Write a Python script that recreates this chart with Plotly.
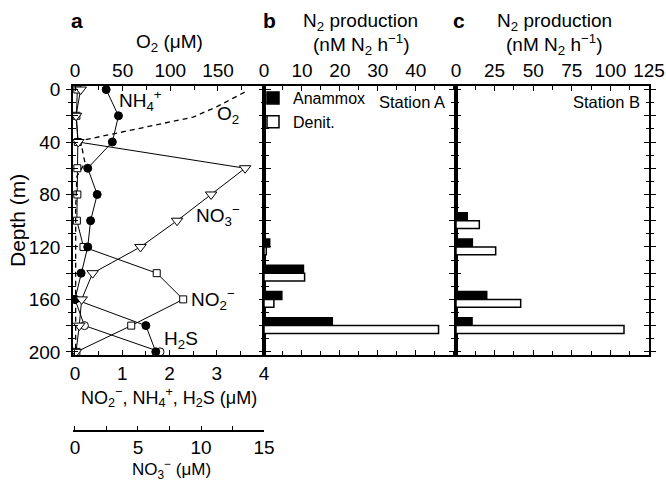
import plotly.graph_objects as go

# ---------------- data ----------------
depth = [0, 20, 40, 60, 80, 100, 120, 140, 160, 180, 200]
nh4 = [0.66, 0.92, 0.79, 0.27, 0.47, 0.33, 0.27, 0.13, 0.0, 1.50, 1.71]
no2 = [0.05, 0.03, 0.06, 0.05, 0.05, 0.04, 0.18, 1.73, 2.29, 1.19, 0.03]
no3 = [0.45, 0.08, 0.26, 13.5, 10.8, 8.1, 5.2, 1.4, 0.53, 0.34, 0.08]
h2s_depth = [160, 180, 200]
h2s = [0.0, 0.2, 1.8]
o2_depth = [2, 13, 21, 39, 47, 56, 66, 90, 200]
o2 = [178, 149, 124, 6, 8, 10.5, 2, 0.7, 0.7]

stA_depth = [120, 140, 160, 180]
stA_anammox = [1.5, 10.4, 4.7, 18.0]
stA_denit = [0.6, 10.7, 2.6, 46.0]

stB_depth = [100, 120, 160, 180]
stB_anammox = [7.3, 10.6, 19.9, 10.4]
stB_denit = [15.1, 25.7, 41.9, 108.8]

depth_ticks = [0, 20, 40, 60, 80, 100, 120, 140, 160, 180, 200]
depth_labels = ["0", "", "40", "", "80", "", "120", "", "160", "", "200"]
stA_ticks = [0, 10, 20, 30, 40]
stB_ticks = [0, 25, 50, 75, 100, 125]

# ---------------- layout geometry ----------------
W, H = 666, 481
FONT = "Liberation Sans, Arial, Helvetica, sans-serif"
def px(x):
    return x / W
def py(y):
    return 1 - y / H

XA = [px(73), px(264)]
XB = [px(264), px(456)]
XC = [px(456), px(649)]
YD = [py(355), py(86)]
YR = [202.4, -2.7]
XR_A = [-0.042, 4.0]
XR_B = [0, 50.6]
XR_C = [0, 125]

fig = go.Figure()

# panel a
fig.add_trace(go.Scatter(x=o2, y=o2_depth, xaxis="x2", yaxis="y", mode="lines",
                         line=dict(color="black", width=1.3, dash="5px,4px"),
                         showlegend=False, hoverinfo="skip"))
fig.add_trace(go.Scatter(x=no3, y=depth, xaxis="x3", yaxis="y", mode="lines+markers",
                         line=dict(color="black", width=1),
                         marker=dict(symbol="triangle-down", size=10, color="white",
                                     line=dict(color="black", width=1)),
                         showlegend=False))
fig.add_trace(go.Scatter(x=no2, y=depth, xaxis="x", yaxis="y", mode="lines+markers",
                         line=dict(color="black", width=1),
                         marker=dict(symbol="square", size=7, color="white",
                                     line=dict(color="black", width=1)),
                         showlegend=False))
fig.add_trace(go.Scatter(x=h2s, y=h2s_depth, xaxis="x", yaxis="y", mode="lines+markers",
                         line=dict(color="black", width=1),
                         marker=dict(symbol="circle", size=8, color="white",
                                     line=dict(color="black", width=1)),
                         showlegend=False))
fig.add_trace(go.Scatter(x=nh4, y=depth, xaxis="x", yaxis="y", mode="lines+markers",
                         line=dict(color="black", width=1),
                         marker=dict(symbol="circle", size=8, color="black",
                                     line=dict(color="black", width=1)),
                         showlegend=False))

# panel b
fig.add_trace(go.Bar(x=stA_anammox, y=stA_depth, orientation="h", xaxis="x4", yaxis="y3",
                     name="Anammox", marker=dict(color="black", line=dict(color="black", width=1.5))))
fig.add_trace(go.Bar(x=stA_denit, y=stA_depth, orientation="h", xaxis="x4", yaxis="y3",
                     name="Denit.", marker=dict(color="white", line=dict(color="black", width=1.5))))
# panel c
fig.add_trace(go.Bar(x=stB_anammox, y=stB_depth, orientation="h", xaxis="x5", yaxis="y4",
                     name="Anammox", showlegend=False,
                     marker=dict(color="black", line=dict(color="black", width=1.5))))
fig.add_trace(go.Bar(x=stB_denit, y=stB_depth, orientation="h", xaxis="x5", yaxis="y4",
                     name="Denit.", showlegend=False,
                     marker=dict(color="white", line=dict(color="black", width=1.5))))

# empty traces so that the overlay tick axes (crossing ticks) get drawn
fig.add_trace(go.Scatter(x=[], y=[], xaxis="x", yaxis="y2", showlegend=False, hoverinfo="skip"))
fig.add_trace(go.Scatter(x=[], y=[], xaxis="x5", yaxis="y5", showlegend=False, hoverinfo="skip"))

tickfont = dict(family=FONT, size=19, color="black")
common = dict(showline=True, linecolor="black", linewidth=1.5, tickcolor="black",
              tickwidth=1.2, zeroline=False, showgrid=False, tickfont=tickfont,
              automargin=False)

def mnr(dt, ticks, tl=3):
    return dict(tickmode="linear", tick0=0, dtick=dt, ticks=ticks, ticklen=tl,
                tickcolor="black", tickwidth=1.2, showgrid=False)

def ydepth(ticks, labels=False, **kw):
    d = dict(range=YR, side="left", tickmode="array", tickvals=depth_ticks,
             ticks=ticks, ticklen=5, minor=mnr(10, ticks, 3), mirror="ticks",
             showticklabels=labels, **common)
    if labels:
        d["ticktext"] = depth_labels
        d["ticklabelstandoff"] = 2
    d.update(kw)
    return d

def xtop(rng, vals, minor_dt, **kw):
    d = dict(range=rng, side="top", tickmode="array", tickvals=vals, ticks="inside",
             ticklen=5, minor=mnr(minor_dt, "inside", 4), ticklabelstandoff=0, **common)
    d.update(kw)
    return d

layout = dict(
    template="none",
    width=W, height=H, autosize=False,
    margin=dict(l=0, r=0, t=0, b=0, pad=0),
    paper_bgcolor="white", plot_bgcolor="rgba(0,0,0,0)",
    font=dict(family=FONT, size=17, color="black"),
    barmode="group", bargap=0.4, bargroupgap=0.0,
    showlegend=True,
    legend=dict(x=px(253), y=py(81), xanchor="left", yanchor="top",
                bgcolor="rgba(0,0,0,0)", borderwidth=0,
                font=dict(family=FONT, size=16, color="black"),
                tracegroupgap=0, itemclick=False),
    # ---- panel a ----
    xaxis=dict(domain=XA, anchor="y", range=XR_A, side="bottom", tickmode="linear",
               tick0=0, dtick=1, ticks="inside", ticklen=5, minor=mnr(0.5, "inside", 4),
               ticklabelstandoff=0, **common),
    xaxis2=xtop([-2.1, 198.3], [0, 50, 100, 150], 25, overlaying="x", anchor="y"),
    xaxis3=dict(overlaying="x", anchor="free", position=py(430.7), side="bottom",
                range=[-0.158, 15.0], tickmode="linear", tick0=0, dtick=5,
                ticks="inside", ticklen=4, minor=mnr(2.5, "inside", 4),
                ticklabelstandoff=0, **common),
    yaxis=ydepth("outside", labels=True, domain=YD, anchor="x"),
    yaxis2=ydepth("inside", overlaying="y", anchor="x"),
    # ---- panel b ----
    xaxis4=xtop(XR_B, stA_ticks, 5, domain=XB, anchor="y3", mirror="ticks"),
    yaxis3=ydepth("inside", domain=YD, anchor="x4"),
    # ---- panel c ----
    xaxis5=xtop(XR_C, stB_ticks, 12.5, domain=XC, anchor="y4", mirror="ticks"),
    yaxis4=ydepth("inside", domain=YD, anchor="x5"),
    yaxis5=ydepth("outside", overlaying="y4", anchor="x5"),
)
fig.update_layout(**layout)

def ann(text, x, y, size=17, xanchor="center", yanchor="middle", angle=0):
    fig.add_annotation(text=text, x=px(x), y=py(y), xref="paper", yref="paper",
                       xanchor=xanchor, yanchor=yanchor, showarrow=False, textangle=angle,
                       font=dict(family=FONT, size=size, color="black"))

# panel letters
ann("<b>a</b>", 77, 20, size=21)
ann("<b>b</b>", 269, 20, size=21)
ann("<b>c</b>", 459, 20, size=21)

# top titles
ann("O<sub>2</sub> (μM)", 169, 43, size=19)
ann("N<sub>2</sub> production", 360, 22, size=19)
ann("(nM N<sub>2</sub> h<sup>−1</sup>)", 361, 45, size=19)
ann("N<sub>2</sub> production", 554, 22, size=19)
ann("(nM N<sub>2</sub> h<sup>−1</sup>)", 554, 45, size=19)

# bottom titles
ann("NO<sub>2</sub><sup>−</sup>, NH<sub>4</sub><sup>+</sup>, H<sub>2</sub>S (μM)", 169, 397, size=18)
ann("NO<sub>3</sub><sup>−</sup> (μM)", 171, 469, size=17)
ann("Depth (m)", 18, 221, size=21, angle=-90)

# in-plot labels
ann("NH<sub>4</sub><sup>+</sup>", 117, 100, size=19, xanchor="left")
ann("O<sub>2</sub>", 215, 115, size=19, xanchor="left")
ann("NO<sub>3</sub><sup>−</sup>", 194, 215, size=19, xanchor="left")
ann("NO<sub>2</sub><sup>−</sup>", 189, 299, size=19, xanchor="left")
ann("H<sub>2</sub>S", 162, 340, size=19, xanchor="left")
ann("Station A", 447, 102, size=16.5, xanchor="right")
ann("Station B", 642, 102, size=16.5, xanchor="right")

fig.write_html("out.html")
